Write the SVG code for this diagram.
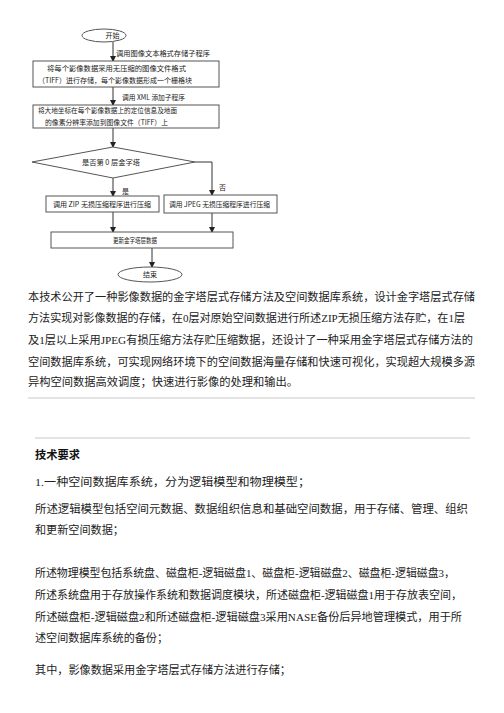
<svg xmlns="http://www.w3.org/2000/svg" width="504" height="713" viewBox="0 0 504 713">
<style>
.box{fill:#fff;stroke:#555;stroke-width:1}
.ln{fill:none;stroke:#333;stroke-width:1}
.ft{font-family:"Noto Sans CJK SC","Liberation Sans",sans-serif;font-size:7px;fill:#222}
.pt{font-family:"Liberation Serif","Noto Sans CJK SC",serif;font-size:11px;fill:#222}
.hd{font-family:"Liberation Serif","Noto Sans CJK SC",serif;font-size:11.5px;font-weight:bold;fill:#111}
.rule{stroke:#c8c8c8;stroke-width:1}
</style>
<defs>
<marker id="ah" markerWidth="6" markerHeight="6" refX="5" refY="3" orient="auto" markerUnits="userSpaceOnUse">
<path d="M0,0 L6,3 L0,6 z" fill="#222"/>
</marker>
</defs>
<rect width="504" height="713" fill="#fff"/>

<g id="connectors">
<line class="ln" x1="113" y1="42" x2="113" y2="61" marker-end="url(#ah)"/>
<line class="ln" x1="113" y1="87" x2="113" y2="105" marker-end="url(#ah)"/>
<line class="ln" x1="113" y1="128" x2="113" y2="147" marker-end="url(#ah)"/>
<line class="ln" x1="113" y1="178" x2="113" y2="196" marker-end="url(#ah)"/>
<polyline class="ln" points="195,162 212,162 212,195" marker-end="url(#ah)"/>
<line class="ln" x1="113" y1="212" x2="113" y2="232" marker-end="url(#ah)"/>
<line class="ln" x1="212" y1="213" x2="212" y2="232" marker-end="url(#ah)"/>
<line class="ln" x1="152" y1="248" x2="152" y2="267" marker-end="url(#ah)"/>
<text class="ft" x="116" y="55.5" textLength="94" lengthAdjust="spacingAndGlyphs">调用图像文本格式存储子程序</text>
<text class="ft" x="122" y="99.5" textLength="63" lengthAdjust="spacingAndGlyphs">调用 XML 添加子程序</text>
<text class="ft" x="122" y="193.5">是</text>
<text class="ft" x="219" y="189.5">否</text>
</g>

<g id="start">
<ellipse cx="104" cy="35.5" rx="22" ry="6.5" class="box"/>
<text class="ft" x="112.5" y="38" text-anchor="middle">开始</text>
</g>

<g id="box1">
<rect class="box" x="33" y="61" width="186" height="26"/>
<text class="ft" x="47" y="70.5" textLength="139" lengthAdjust="spacingAndGlyphs">将每个影像数据采用无压缩的图像文件格式</text>
<text class="ft" x="38" y="82.5" textLength="154" lengthAdjust="spacingAndGlyphs">（TIFF）进行存储，每个影像数据形成一个栅格块</text>
</g>

<g id="box2">
<rect class="box" x="33" y="105" width="186" height="23"/>
<text class="ft" x="38" y="112.5" textLength="139" lengthAdjust="spacingAndGlyphs">将大地坐标在每个影像数据上的定位信息及地面</text>
<text class="ft" x="45" y="124.5" textLength="123" lengthAdjust="spacingAndGlyphs">的像素分辨率添加到图像文件（TIFF）上</text>
</g>

<g id="decision">
<polygon class="box" points="113,147 195,162 113,178 32,162"/>
<text class="ft" x="82" y="164.5" textLength="58" lengthAdjust="spacingAndGlyphs">是否第 0 层金字塔</text>
</g>

<g id="zip">
<rect class="box" x="46" y="196" width="113" height="16"/>
<text class="ft" x="53" y="206.5" textLength="98" lengthAdjust="spacingAndGlyphs">调用 ZIP 无损压缩程序进行压缩</text>
</g>

<g id="jpeg">
<rect class="box" x="164" y="195" width="113" height="18"/>
<text class="ft" x="169" y="206.5" textLength="101" lengthAdjust="spacingAndGlyphs">调用 JPEG 无损压缩程序进行压缩</text>
</g>

<g id="update">
<rect class="box" x="51" y="232" width="182" height="16"/>
<text class="ft" x="113" y="242.5" textLength="44" lengthAdjust="spacingAndGlyphs">更新金字塔层数据</text>
</g>

<g id="end">
<ellipse cx="150" cy="274.5" rx="32" ry="7.5" class="box"/>
<text class="ft" x="150" y="277" text-anchor="middle">结束</text>
</g>

<g id="abstract">
<text class="pt" x="28" y="301" textLength="447" lengthAdjust="spacingAndGlyphs">本技术公开了一种影像数据的金字塔层式存储方法及空间数据库系统，设计金字塔层式存储</text>
<text class="pt" x="28" y="322" textLength="437" lengthAdjust="spacingAndGlyphs">方法实现对影像数据的存储，在0层对原始空间数据进行所述ZIP无损压缩方法存贮，在1层</text>
<text class="pt" x="28" y="344" textLength="445" lengthAdjust="spacingAndGlyphs">及1层以上采用JPEG有损压缩方法存贮压缩数据，还设计了一种采用金字塔层式存储方法的</text>
<text class="pt" x="28" y="365.5" textLength="447" lengthAdjust="spacingAndGlyphs">空间数据库系统，可实现网络环境下的空间数据海量存储和快速可视化，实现超大规模多源</text>
<text class="pt" x="28" y="386" textLength="270" lengthAdjust="spacingAndGlyphs">异构空间数据高效调度；快速进行影像的处理和输出。</text>
</g>

<line class="rule" x1="28" y1="398" x2="475" y2="398"/>
<line class="rule" x1="35" y1="438" x2="470" y2="438"/>

<g id="claims">
<text class="hd" x="35" y="459" textLength="45" lengthAdjust="spacingAndGlyphs">技术要求</text>
<text class="pt" x="35" y="486" textLength="275" lengthAdjust="spacingAndGlyphs">1.一种空间数据库系统，分为逻辑模型和物理模型；</text>
<text class="pt" x="35" y="513" textLength="433" lengthAdjust="spacingAndGlyphs">所述逻辑模型包括空间元数据、数据组织信息和基础空间数据，用于存储、管理、组织</text>
<text class="pt" x="35" y="534" textLength="89" lengthAdjust="spacingAndGlyphs">和更新空间数据；</text>
<text class="pt" x="35" y="577" textLength="420" lengthAdjust="spacingAndGlyphs">所述物理模型包括系统盘、磁盘柜-逻辑磁盘1、磁盘柜-逻辑磁盘2、磁盘柜-逻辑磁盘3，</text>
<text class="pt" x="35" y="599" textLength="427" lengthAdjust="spacingAndGlyphs">所述系统盘用于存放操作系统和数据调度模块，所述磁盘柜-逻辑磁盘1用于存放表空间，</text>
<text class="pt" x="35" y="621" textLength="427" lengthAdjust="spacingAndGlyphs">所述磁盘柜-逻辑磁盘2和所述磁盘柜-逻辑磁盘3采用NASE备份后异地管理模式，用于所</text>
<text class="pt" x="35" y="642" textLength="133" lengthAdjust="spacingAndGlyphs">述空间数据库系统的备份；</text>
<text class="pt" x="35" y="674" textLength="256" lengthAdjust="spacingAndGlyphs">其中，影像数据采用金字塔层式存储方法进行存储；</text>
</g>
</svg>
